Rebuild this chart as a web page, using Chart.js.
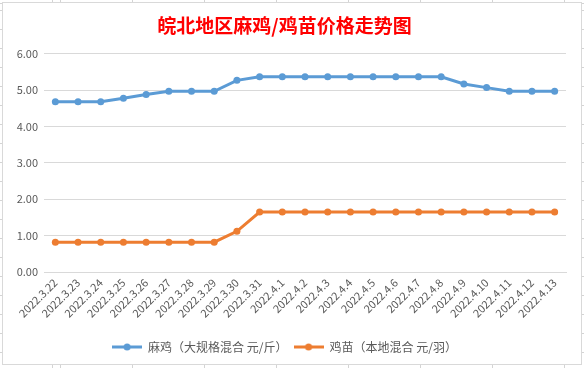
<!DOCTYPE html>
<html>
<head>
<meta charset="utf-8">
<script src="https://cdn.jsdelivr.net/npm/chart.js@4"></script>
<style>
  html, body { margin: 0; padding: 0; }
  body {
    width: 584px; height: 368px; position: relative; overflow: hidden;
    background-color: #fff;
    /* spreadsheet cell lines peeking round the chart */
    background-image:
      repeating-linear-gradient(to right, #d4d4d4 0, #d4d4d4 1px, transparent 1px, transparent 72px),
      repeating-linear-gradient(to bottom, #d4d4d4 0, #d4d4d4 1px, transparent 1px, transparent 19px);
    background-position: 60px 0, 0 10px;
  }
  #box {
    position: absolute; left: 2px; top: 2px; width: 578px; height: 361px;
    border: 1px solid #d9d9d9; background: #fff;
  }
</style>
</head>
<body>
<div id="box"><canvas id="c" width="578" height="361"></canvas></div>
<script>
'use strict';

var title = '皖北地区麻鸡/鸡苗价格走势图';

var dates = ['2022.3.22', '2022.3.23', '2022.3.24', '2022.3.25', '2022.3.26',
    '2022.3.27', '2022.3.28', '2022.3.29', '2022.3.30', '2022.3.31',
    '2022.4.1', '2022.4.2', '2022.4.3', '2022.4.4', '2022.4.5', '2022.4.6',
    '2022.4.7', '2022.4.8', '2022.4.9', '2022.4.10', '2022.4.11', '2022.4.12', '2022.4.13'];

var majiName = '麻鸡（大规格混合 元/斤）';
var majiPrice = [4.68, 4.68, 4.68, 4.78, 4.88, 4.97, 4.97, 4.97, 5.27, 5.37,
    5.37, 5.37, 5.37, 5.37, 5.37, 5.37, 5.37, 5.37, 5.17, 5.07, 4.97, 4.97, 4.97];

var jimiaoName = '鸡苗（本地混合 元/羽）';
var jimiaoPrice = [0.82, 0.82, 0.82, 0.82, 0.82, 0.82, 0.82, 0.82, 1.12, 1.65,
    1.65, 1.65, 1.65, 1.65, 1.65, 1.65, 1.65, 1.65, 1.65, 1.65, 1.65, 1.65, 1.65];

var yMin = 0, yMax = 6, yStep = 1;

var BLUE = '#5b9bd5', ORANGE = '#ed7d31', TEXT = '#595959', GRID = '#d9d9d9';
var FONT = '"Noto Sans CJK SC", "Noto Sans", sans-serif';

// little line-with-dot swatch for the legend, like the spreadsheet one
function swatch(color) {
    var cv = document.createElement('canvas');
    cv.width = 30; cv.height = 10;
    var ctx = cv.getContext('2d');
    ctx.strokeStyle = color;
    ctx.lineWidth = 3;
    ctx.beginPath(); ctx.moveTo(0, 5); ctx.lineTo(30, 5); ctx.stroke();
    ctx.fillStyle = color;
    ctx.beginPath(); ctx.arc(15, 5, 3.5, 0, Math.PI * 2); ctx.fill();
    return cv;
}

function series(name, data, color) {
    return {
        label: name,
        data: data,
        borderColor: color,
        backgroundColor: color,
        borderWidth: 3,
        pointRadius: 3.5,
        pointBorderWidth: 0,
        pointHoverRadius: 4,
        tension: 0,
        swatch: swatch(color)
    };
}

new Chart(document.getElementById('c'), {
    type: 'line',
    data: {
        labels: dates,
        datasets: [
            series(majiName, majiPrice, BLUE),
            series(jimiaoName, jimiaoPrice, ORANGE)
        ]
    },
    options: {
        responsive: false,
        animation: false,
        layout: { padding: { left: 0, right: 15, top: 0, bottom: 1 } },
        plugins: {
            title: {
                display: true,
                text: title,
                color: '#ff0000',
                font: { family: FONT, size: 19, weight: 'bold' },
                padding: { top: 11, bottom: 17 }
            },
            legend: {
                position: 'bottom',
                labels: {
                    usePointStyle: true,
                    pointStyleWidth: 30,
                    color: TEXT,
                    font: { family: FONT, size: 12 },
                    padding: 6,
                    generateLabels: function(chart) {
                        return chart.data.datasets.map(function(ds, i) {
                            return {
                                text: ds.label,
                                fontColor: TEXT,
                                pointStyle: ds.swatch,
                                datasetIndex: i,
                                lineWidth: 0,
                                hidden: false
                            };
                        });
                    }
                }
            },
            tooltip: { enabled: false }
        },
        scales: {
            x: {
                offset: true,
                grid: { display: false, drawTicks: false },
                border: { color: GRID },
                ticks: {
                    color: TEXT,
                    font: { family: FONT, size: 11 },
                    minRotation: 45, maxRotation: 45,
                    autoSkip: false,
                    padding: 4
                },
                afterFit: function(scale) { scale.height = 63; }
            },
            y: {
                min: yMin, max: yMax,
                grid: { color: GRID, drawTicks: false },
                border: { display: false },
                ticks: {
                    stepSize: yStep,
                    color: TEXT,
                    font: { family: FONT, size: 11 },
                    padding: 6,
                    callback: function(v) { return v.toFixed(2); }
                },
                afterFit: function(scale) { scale.width = 41; }
            }
        }
    }
});
</script>
</body>
</html>
